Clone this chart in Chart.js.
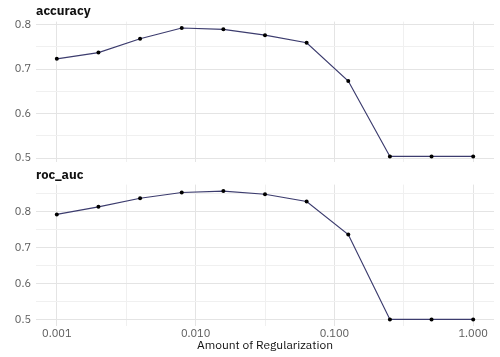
<!DOCTYPE html>
<html><head><meta charset="utf-8">
<script src="https://cdn.jsdelivr.net/npm/chart.js@4/dist/chart.umd.min.js"></script>
<style>
html,body{margin:0;padding:0;background:#fff;}
#wrap{position:relative;width:500px;height:357px;overflow:hidden;}
canvas{position:absolute;left:0;display:block;}
</style></head><body>
<div id="wrap">
<canvas id="c1" width="500" height="174" style="top:0"></canvas>
<canvas id="c2" width="500" height="191" style="top:166px"></canvas>
</div>
<script>
// Amount of regularization (penalty) values
const penalty = [0.001, 0.001995, 0.003981, 0.007943, 0.015849, 0.031623, 0.063096, 0.125893, 0.251189, 0.501187, 1.0];
// Metric values
const accuracy = [0.723, 0.737, 0.768, 0.792, 0.789, 0.776, 0.759, 0.673, 0.504, 0.504, 0.504];
const rocAuc = [0.792, 0.813, 0.837, 0.853, 0.857, 0.848, 0.828, 0.736, 0.500, 0.500, 0.500];
// Tick labels
const xMajorTicks = [0.001, 0.01, 0.1, 1];
const xMinorTicks = [0.0031623, 0.031623, 0.31623];
const yMajorTicks = [0.5, 0.6, 0.7, 0.8];
const yMinorTicks = [0.55, 0.65, 0.75, 0.85];

const FONT = "'IBM Plex Sans', Roboto, 'Noto Sans', sans-serif";
const TICK_COLOR = '#5a5a5a';
const MAJOR_GRID = '#e4e4e4';
const MINOR_GRID = '#f0f0f0';

function makePanel(id, title, values, yMin, yMax, showX, titlePad, bottomPad, xHeight) {
  const ctx = document.getElementById(id).getContext('2d');
  const allX = xMajorTicks.concat(xMinorTicks).sort((a, b) => a - b);
  const allY = yMajorTicks.concat(yMinorTicks).filter(v => v >= yMin && v <= yMax).sort((a, b) => a - b);
  return new Chart(ctx, {
    type: 'line',
    data: {
      datasets: [{
        data: penalty.map((p, i) => ({ x: p, y: values[i] })),
        borderColor: '#3c3c6e',
        borderWidth: 1.2,
        pointRadius: 2,
        pointBackgroundColor: '#000',
        pointBorderWidth: 0,
        tension: 0,
        fill: false
      }]
    },
    options: {
      responsive: false,
      animation: false,
      events: [],
      layout: { autoPadding: false, padding: { left: 0, right: 6, top: 0, bottom: bottomPad } },
      plugins: {
        legend: { display: false },
        tooltip: { enabled: false },
        title: {
          display: true, text: title, align: 'start', fullSize: false,
          color: '#111', font: { family: FONT, size: 13, weight: 'bold', lineHeight: 1.2 },
          padding: titlePad
        }
      },
      scales: {
        x: {
          type: 'logarithmic',
          min: Math.pow(10, -3.15), max: Math.pow(10, 0.15),
          afterBuildTicks: s => { s.ticks = allX.map(v => ({ value: v })); },
          afterFit: s => { s.height = xHeight; },
          ticks: {
            display: showX, autoSkip: false, maxRotation: 0, padding: 3,
            color: TICK_COLOR, font: { family: FONT, size: 11, lineHeight: 1 },
            callback: v => xMajorTicks.includes(v) ? v.toFixed(3) : ''
          },
          grid: {
            drawTicks: false,
            color: c => (c.tick && xMajorTicks.includes(c.tick.value)) ? MAJOR_GRID : MINOR_GRID,
            lineWidth: 1
          },
          border: { display: false },
          title: {
            display: showX, text: 'Amount of Regularization', color: '#111',
            font: { family: FONT, size: 12, lineHeight: 1 },
            padding: { top: 2, bottom: 2 }
          }
        },
        y: {
          type: 'linear', min: yMin, max: yMax,
          afterBuildTicks: s => { s.ticks = allY.map(v => ({ value: v })); },
          afterFit: s => { s.width = 36; },
          ticks: {
            padding: 5, color: TICK_COLOR, font: { family: FONT, size: 11 },
            callback: v => yMajorTicks.includes(v) ? v.toFixed(1) : ''
          },
          grid: {
            drawTicks: false,
            color: c => (c.tick && yMajorTicks.includes(c.tick.value)) ? MAJOR_GRID : MINOR_GRID,
            lineWidth: 1
          },
          border: { display: false }
        }
      }
    }
  });
}

makePanel('c1', 'accuracy', accuracy, 0.4906, 0.8064, false, { top: 3, bottom: 3 }, 4.4, 0);
makePanel('c2', 'roc_auc', rocAuc, 0.4822, 0.8749, true, { top: 1, bottom: 2 }, 3, 28.2);
</script>
</body></html>
